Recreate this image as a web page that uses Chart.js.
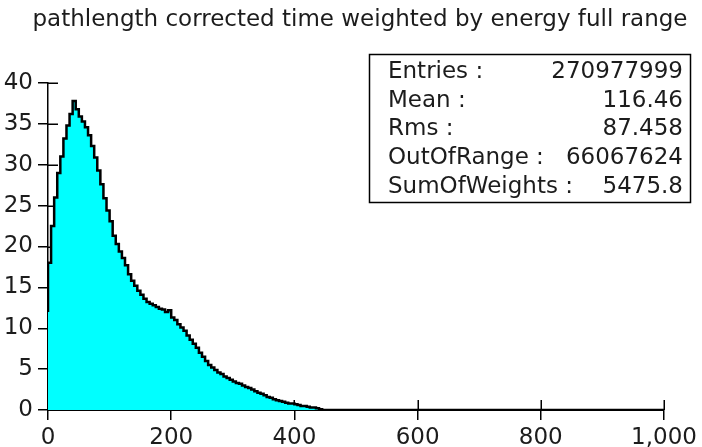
<!DOCTYPE html>
<html>
<head>
<meta charset="utf-8">
<script src="https://cdn.jsdelivr.net/npm/chart.js@4.4.1/dist/chart.umd.min.js"></script>
<style>
  html, body { margin: 0; padding: 0; background: #fff; }
  #wrap { width: 702px; height: 447px; }
</style>
</head>
<body>
<div id="wrap"><canvas id="hist" width="702" height="447"></canvas></div>
<script>
const TITLE = 'pathlength corrected time weighted by energy full range';

// histogram: bins of width 5 starting at 0, weights per bin (everything past 450 is empty)
const BIN_WIDTH = 5;
const WEIGHTS = [
  12.0, 18.0, 22.5, 26.0, 29.0, 31.0, 33.2, 34.8, 36.2, 37.8,
  36.8, 35.9, 35.3, 34.6, 33.6, 32.3, 30.9, 29.3, 27.6, 25.9,
  24.4, 23.1, 21.3, 20.3, 19.4, 18.6, 17.7, 16.6, 15.8, 15.2,
  14.6, 14.1, 13.6, 13.2, 13.0, 12.8, 12.6, 12.4, 12.3, 12.0,
  12.2, 11.3, 11.0, 10.5, 10.1,  9.7,  9.1,  8.6,  8.1,  7.6,
   7.0,  6.5,  6.0,  5.5,  5.2,  4.9,  4.6,  4.4,  4.1,  3.9,
   3.7,  3.5,  3.3,  3.2,  3.0,  2.8,  2.7,  2.5,  2.3,  2.1,
   2.0,  1.8,  1.6,  1.5,  1.3,  1.2,  1.1,  1.0,  0.9,  0.8,
   0.8,  0.7,  0.6,  0.5,  0.5,  0.4,  0.3,  0.3,  0.2,  0.1
];
const X_MAX = 1000;
const Y_MAX = 40;
const X_TICKS = [0, 200, 400, 600, 800, 1000];
const Y_TICKS = [0, 5, 10, 15, 20, 25, 30, 35, 40];

const STAT_NAMES  = ['Entries :', 'Mean :', 'Rms :', 'OutOfRange :', 'SumOfWeights :'];
const STAT_VALUES = ['270977999', '116.46', '87.458', '66067624', '5475.8'];

const FONT = { family: 'DejaVu Sans', size: 23 };
const INK = '#1c1c1c';

// step outline: each point holds its weight until the next bin edge
const points = WEIGHTS.map((w, i) => ({ x: i * BIN_WIDTH, y: w }));
points.push({ x: WEIGHTS.length * BIN_WIDTH, y: 0 });
points.push({ x: X_MAX, y: 0 });

// tick marks cross the axis: draw the inner half before the histogram covers it
const innerTicks = {
  id: 'innerTicks',
  beforeDatasetsDraw(chart) {
    const { ctx, scales: { x, y } } = chart;
    ctx.save();
    ctx.strokeStyle = '#000';
    ctx.lineWidth = 1.5;
    ctx.beginPath();
    Y_TICKS.forEach(v => {
      const py = Math.round(y.getPixelForValue(v)) + 0.25;
      ctx.moveTo(x.left, py);
      ctx.lineTo(x.left + 10, py);
    });
    X_TICKS.forEach(v => {
      const px = Math.round(x.getPixelForValue(v)) + 0.25;
      ctx.moveTo(px, y.bottom);
      ctx.lineTo(px, y.bottom - 10);
    });
    ctx.stroke();
    ctx.restore();
  }
};

// title over the whole canvas plus the statistics box in the top right
const annotations = {
  id: 'annotations',
  afterDraw(chart) {
    const ctx = chart.ctx;
    ctx.save();
    ctx.font = FONT.size + 'px "' + FONT.family + '"';
    ctx.fillStyle = INK;
    ctx.textAlign = 'center';
    ctx.textBaseline = 'middle';
    ctx.fillText(TITLE, 360, 20);

    const left = 369, top = 54, w = 321, h = 148;
    ctx.fillStyle = '#fff';
    ctx.fillRect(left, top, w, h);
    ctx.strokeStyle = '#000';
    ctx.lineWidth = 1.5;
    ctx.strokeRect(left + 0.5, top + 0.5, w, h);
    ctx.fillStyle = INK;
    STAT_NAMES.forEach((name, i) => {
      const ty = top + 18 + i * 28.7;
      ctx.textAlign = 'left';
      ctx.fillText(name, left + 19, ty);
      ctx.textAlign = 'right';
      ctx.fillText(STAT_VALUES[i], left + w - 7, ty);
    });
    ctx.restore();
  }
};

new Chart(document.getElementById('hist'), {
  type: 'line',
  data: {
    datasets: [{
      data: points,
      stepped: 'after',
      fill: 'origin',
      backgroundColor: '#00ffff',
      borderColor: '#000',
      borderWidth: 2.5,
      pointRadius: 0
    }]
  },
  options: {
    responsive: false,
    animation: false,
    layout: { padding: { top: 83, right: 38, left: 0, bottom: 0 } },
    plugins: {
      legend: { display: false },
      tooltip: { enabled: false },
      title: { display: false }
    },
    scales: {
      x: {
        type: 'linear',
        min: 0,
        max: X_MAX,
        afterBuildTicks: s => { s.ticks = X_TICKS.map(v => ({ value: v })); },
        afterFit: s => { s.height = 37; },
        ticks: { font: FONT, color: INK, padding: 4, maxRotation: 0 },
        grid: { display: true, drawOnChartArea: false, drawTicks: true, tickLength: 10, color: '#000', lineWidth: 1.5 },
        border: { display: true, color: '#000', width: 2 }
      },
      y: {
        min: 0,
        max: Y_MAX,
        afterBuildTicks: s => { s.ticks = Y_TICKS.map(v => ({ value: v })); },
        afterFit: s => { s.width = 48; },
        ticks: { font: FONT, color: INK, padding: 5 },
        grid: { display: true, drawOnChartArea: false, drawTicks: true, tickLength: 10, color: '#000', lineWidth: 1.5 },
        border: { display: true, color: '#000', width: 1.5 }
      }
    }
  },
  plugins: [innerTicks, annotations]
});
</script>
</body>
</html>
